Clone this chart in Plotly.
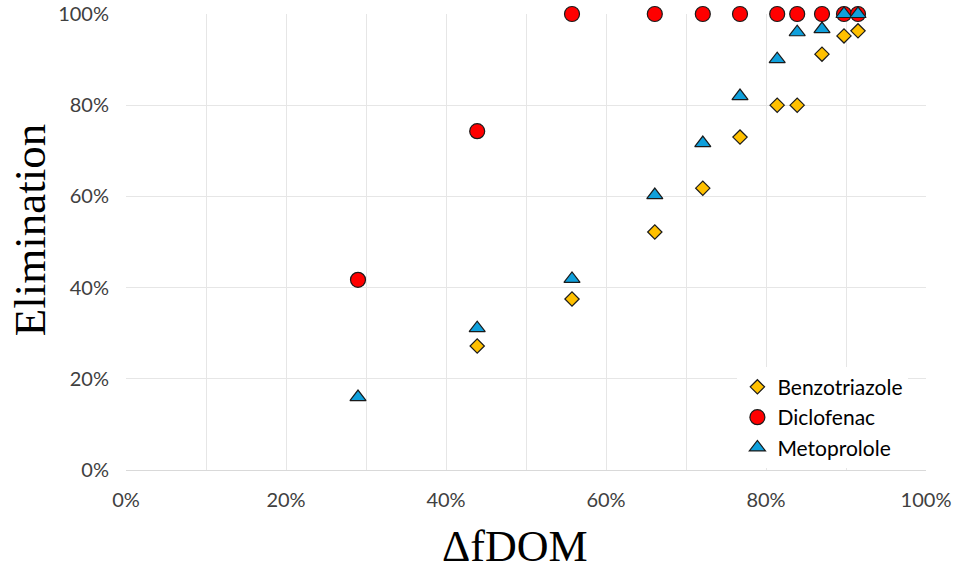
import plotly.graph_objects as go

dfdom = [0.290, 0.439, 0.5575, 0.661, 0.721, 0.7675, 0.814, 0.839, 0.870, 0.8975, 0.915]
benzotriazole = [None, 0.272, 0.375, 0.522, 0.618, 0.730, 0.800, 0.800, 0.912, 0.952, 0.963]
diclofenac = [0.417, 0.743, 1.0, 1.0, 1.0, 1.0, 1.0, 1.0, 1.0, 1.0, 1.0]
metoprolole = [0.160, 0.311, 0.419, 0.603, 0.717, 0.820, 0.901, 0.960, 0.967, 1.0, 1.0]

fig = go.Figure()
fig.add_trace(go.Scatter(
    x=dfdom, y=diclofenac, mode="markers", name="Diclofenac", legendrank=2,
    marker=dict(symbol="circle", size=15, color="#ff0000", line=dict(color="#1a1a1a", width=1.2)),
    cliponaxis=False))
fig.add_trace(go.Scatter(
    x=dfdom, y=metoprolole, mode="markers", name="Metoprolole", legendrank=3,
    marker=dict(symbol="triangle-up", size=14, color="#0fa0dc", line=dict(color="#1a1a1a", width=1.2)),
    cliponaxis=False))
fig.add_trace(go.Scatter(
    x=dfdom, y=benzotriazole, mode="markers", name="Benzotriazole", legendrank=1,
    marker=dict(symbol="diamond", size=11, color="#ffc000", line=dict(color="#1a1a1a", width=1.2)),
    cliponaxis=False))

fig.update_layout(
    width=955, height=571,
    margin=dict(l=126, r=29, t=14, b=101),
    paper_bgcolor="white", plot_bgcolor="white",
    font=dict(family="Lato", color="#404040", size=20),
    legend=dict(x=0.978, y=0.005, xanchor="right", yanchor="bottom",
                bgcolor="white", font=dict(size=21, color="#000000"),
                itemsizing="trace", tracegroupgap=0),
    xaxis=dict(range=[0, 1], dtick=0.2, tick0=0, tickformat=".0%", automargin=False,
               showgrid=True, gridcolor="#e6e6e6",
               minor=dict(dtick=0.1, showgrid=True, gridcolor="#e6e6e6", ticks=""),
               zeroline=False, showline=True, linecolor="#d9d9d9", ticks="",
               ticklabelstandoff=12, ticklabeloverflow="allow"),
    yaxis=dict(range=[0, 1], dtick=0.2, tick0=0, tickformat=".0%", automargin=False,
               showgrid=True, gridcolor="#e6e6e6", zeroline=False, showline=False, ticks="",
               ticklabelstandoff=16, ticklabeloverflow="allow"),
    annotations=[
        dict(text="Elimination", xref="paper", yref="paper", x=-0.12, y=0.526,
             xanchor="center", yanchor="middle", textangle=-90, showarrow=False,
             font=dict(family="Liberation Serif", size=45, color="#000000")),
        dict(text="ΔfDOM", xref="paper", yref="paper", x=0.486, y=-0.168,
             xanchor="center", yanchor="middle", showarrow=False,
             font=dict(family="Liberation Serif", size=44, color="#000000")),
    ],
)

fig.write_html("out.html", config={"displayModeBar": False},
               post_script="document.body.style.margin='0';")
